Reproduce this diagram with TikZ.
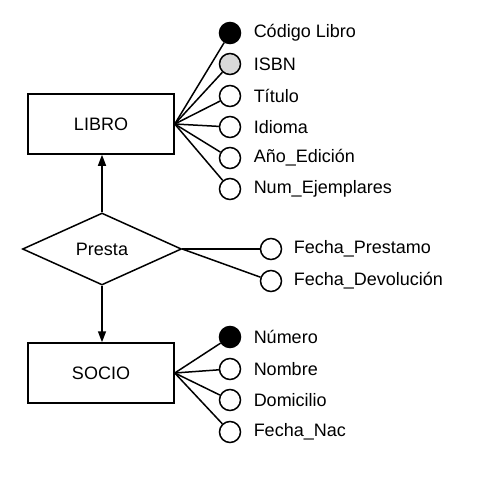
\documentclass[tikz,border=0pt]{standalone}
\usepackage{fontspec}
\setmainfont{Liberation Sans}
\usetikzlibrary{shapes.geometric,arrows.meta}
\definecolor{keygray}{HTML}{D9D9D9}
\begin{document}
\begin{tikzpicture}[x=1pt,y=-1pt,line width=1.5pt,
  txt/.style={font=\fontsize{18}{21}\selectfont},
  entity/.style={draw,txt,minimum width=146pt,minimum height=60pt,inner sep=0pt},
  rel/.style={draw,txt,diamond,minimum width=159pt,minimum height=72pt,inner sep=0pt},
  attr/.style={draw,circle,minimum size=21pt,inner sep=0pt,fill=white},
  pkey/.style={attr,fill=black},
  akey/.style={attr,fill=keygray},
  lbl/.style={txt,anchor=west,inner sep=0pt},
  arr/.style={-{Triangle[width=8pt,length=11pt]}}]
\useasboundingbox (0,0) rectangle (485,485);
% entities and relationship
\node[entity] (libro) at (101,124) {LIBRO};
\node[rel] (presta) at (102,249) {Presta};
\node[entity] (socio) at (101,373) {SOCIO};
% LIBRO attributes
\node[pkey] (l1) at (230,33) {};
\node[akey] (l2) at (230,64) {};
\node[attr] (l3) at (230,96) {};
\node[attr] (l4) at (230,127) {};
\node[attr] (l5) at (230,158) {};
\node[attr] (l6) at (230,189) {};
\node[lbl] (t1) at (253,33) {Código Libro};
\node[lbl] (t2) at (253,64) {ISBN};
\node[lbl] (t3) at (253,96) {Título};
\node[lbl] (t4) at (253,127) {Idioma};
\node[lbl] (t5) at (253,158) {Año\_Edición};
\node[lbl] (t6) at (253,189) {Num\_Ejemplares};
\foreach \i in {1,...,6} \draw (libro.east) -- (l\i);
% Presta attributes
\node[attr] (p1) at (271,249) {};
\node[attr] (p2) at (271,281) {};
\node[lbl] (u1) at (293,249) {Fecha\_Prestamo};
\node[lbl] (u2) at (293,281) {Fecha\_Devolución};
\foreach \i in {1,2} \draw (presta.east) -- (p\i);
% SOCIO attributes
\node[pkey] (s1) at (230,337) {};
\node[attr] (s2) at (230,369) {};
\node[attr] (s3) at (230,400) {};
\node[attr] (s4) at (230,432) {};
\node[lbl] (v1) at (253,337) {Número};
\node[lbl] (v2) at (253,369) {Nombre};
\node[lbl] (v3) at (253,400) {Domicilio};
\node[lbl] (v4) at (253,432) {Fecha\_Nac};
\foreach \i in {1,...,4} \draw (socio.east) -- (s\i);
% arrows
\draw[arr] (presta.north) -- (presta.north |- libro.south);
\draw[arr] (presta.south) -- (presta.south |- socio.north);
\end{tikzpicture}
\end{document}
